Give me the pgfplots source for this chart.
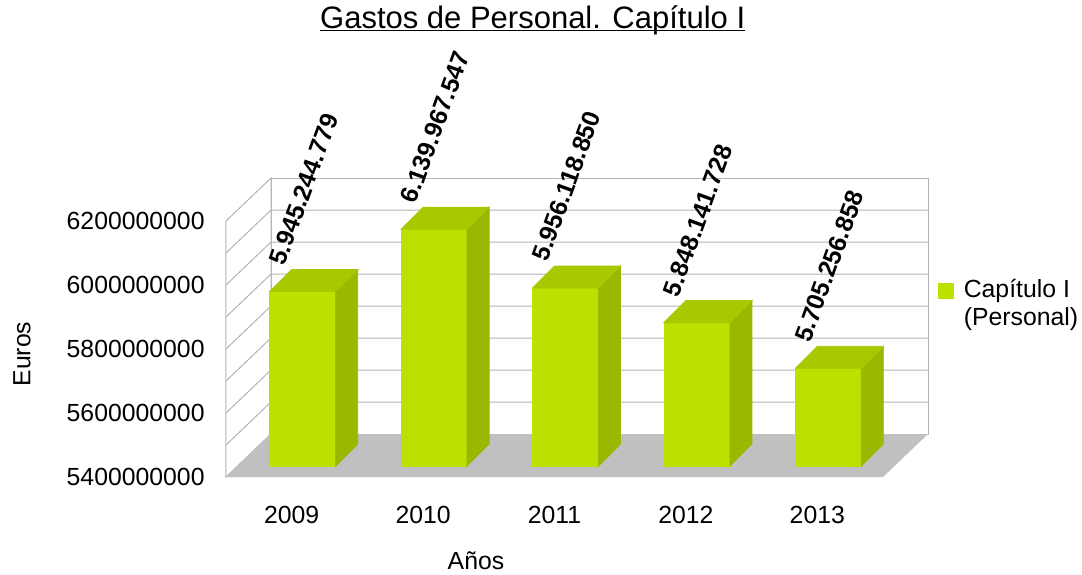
\documentclass[border=0pt]{standalone}
\usepackage{fontspec}
\setmainfont{Liberation Sans}
\usepackage{pgfplots}
\usepackage{pgfplotstable}
\pgfplotsset{compat=1.18}
\definecolor{barfront}{RGB}{189,224,0}
\definecolor{bartop}{RGB}{168,200,0}
\definecolor{barside}{RGB}{153,184,0}
\definecolor{floorc}{RGB}{192,192,192}
\definecolor{gridc}{RGB}{179,179,179}
\pgfdeclareplotmark{nothing}{}
% values in millions of euros
\pgfplotstableread{
x v lab
0 5945.244779 5.945.244.779
1 6139.967547 6.139.967.547
2 5956.118850 5.956.118.850
3 5848.141728 5.848.141.728
4 5705.256858 5.705.256.858
}\gastos
\newcommand\ul[1]{\setbox0\hbox{#1}\rlap{\rule[-1.7pt]{\wd0}{0.9pt}}\box0}
\begin{document}
\fontsize{12.4}{14.5}\selectfont
\begin{tikzpicture}
\path[use as bounding box] (0,0) rectangle (541pt,287pt);
\begin{axis}[
  at={(113pt,48.5pt)}, anchor=south west,
  scale only axis, width=328.5pt, height=128pt,
  xmin=-0.5, xmax=4.5, ymin=5400, ymax=6200,
  clip=false,
  axis line style={draw=none},
  tick style={draw=none},
  xtick={0,1,2,3,4},
  xticklabels={2009,2010,2011,2012,2013},
  ytick={5400,5600,5800,6000,6200},
  yticklabels={5400000000,5600000000,5800000000,6000000000,6200000000},
  xticklabel style={anchor=north, inner sep=0pt, yshift=-14.5pt},
  yticklabel style={anchor=east, inner sep=0pt, xshift=-10.5pt},
  title={\ul{Gastos de Personal. Capítulo I}},
  title style={font=\fontsize{15.5}{18}\selectfont, at={(0.4668,1.707)}, anchor=base, inner sep=0pt},
  xlabel={Años},
  xlabel style={at={(0.3805,-0.363)}, anchor=base, inner sep=0pt},
  ylabel={Euros},
  ylabel style={at={(-0.3105,0.4805)}, anchor=center, inner sep=0pt},
  legend style={at={(1.0837,0.7715)}, anchor=north west, draw=none, fill=none,
    inner sep=0pt, outer sep=0pt, row sep=2pt, column sep=5pt,
    nodes={inner sep=0pt, text height=9pt, text depth=3pt}},
  legend cell align=left,
]
% back wall
\draw[gridc, line width=0.5pt, fill=white] ([shift={(22.5pt,21.5pt)}]axis cs:-0.5,5400) rectangle ([shift={(22.5pt,21.5pt)}]axis cs:4.5,6200);
% left wall
\draw[gridc, line width=0.5pt, fill=white] (axis cs:-0.5,5400) -- (axis cs:-0.5,6200) -- ([shift={(22.5pt,21.5pt)}]axis cs:-0.5,6200) -- ([shift={(22.5pt,21.5pt)}]axis cs:-0.5,5400) -- cycle;
\pgfplotsinvokeforeach{5500,5600,...,6100}{
  \draw[gridc, line width=0.5pt] (axis cs:-0.5,#1) -- ([shift={(22.5pt,21.5pt)}]axis cs:-0.5,#1) -- ([shift={(22.5pt,21.5pt)}]axis cs:4.5,#1);
}
% floor
\fill[floorc] (axis cs:-0.5,5400) -- (axis cs:4.5,5400) -- ([shift={(22.5pt,21.5pt)}]axis cs:4.5,5400) -- ([shift={(22.5pt,21.5pt)}]axis cs:-0.5,5400) -- cycle;
% bars
\addplot[scatter, only marks, mark=nothing, forget plot,
  visualization depends on={\thisrow{v} \as \rawv},
  scatter/@pre marker code/.code={%
    \pgfmathsetmacro\hh{(\rawv-5400)*0.16}%
    \pgfmathsetmacro\ya{5.5-\hh}%
    \pgfmathsetmacro\yb{16.5-\hh}%
    \fill[barfront] (-11pt,\ya pt) rectangle (22pt,5.5pt);
    \fill[barside] (22pt,\ya pt) -- (22pt,5.5pt) -- (33pt,16.5pt) -- (33pt,\yb pt) -- cycle;
    \fill[bartop] (-11pt,5.5pt) -- (22pt,5.5pt) -- (33pt,16.5pt) -- (0pt,16.5pt) -- cycle;
  },
  scatter/@post marker code/.code={},
] table[x=x,y=v] \gastos;
% value labels
\addplot[draw=none, mark=none, forget plot, nodes near coords, point meta=explicit symbolic,
  every node near coord/.append style={xshift=6pt, yshift=56.5pt, rotate=70, anchor=center, inner sep=0pt, text=black, font=\bfseries}]
  table[x=x, y=v, meta=lab] \gastos;
\addlegendimage{legend image code/.code={\fill[barfront] (0pt,-3.25pt) rectangle (7.5pt,4.25pt);}}
\addlegendentry{Capítulo I}
\addlegendimage{empty legend}
\addlegendentry{(Personal)}
\end{axis}
\end{tikzpicture}
\end{document}
